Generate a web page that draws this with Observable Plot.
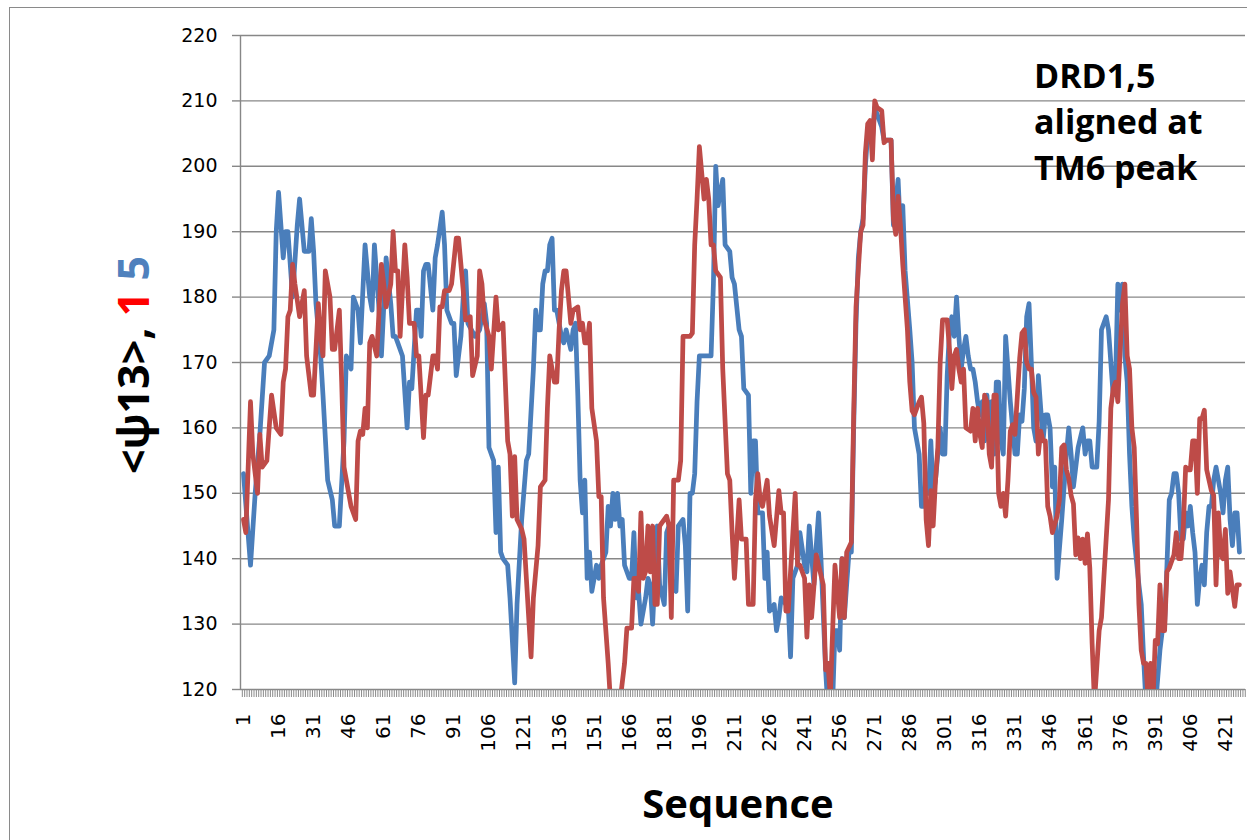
<!DOCTYPE html>
<html><head><meta charset="utf-8">
<script src="https://cdn.jsdelivr.net/npm/d3@7"></script>
<script src="https://cdn.jsdelivr.net/npm/@observablehq/plot@0.6"></script>
<style>
body{margin:0;background:#fff;}
#wrap{position:relative;width:1247px;height:840px;overflow:hidden;background:#fff;}
#border{position:absolute;left:9px;top:7px;width:1300px;height:900px;border-left:1.5px solid #8a8a8a;border-top:1.5px solid #8a8a8a;}
#wrap svg{position:absolute;left:0;top:0;}
</style></head><body><div id="wrap"><div id="border"></div></div>
<script>
// [sequence position, <psi13>]
const blueSeries = [[1,153],[4,139],[6,150],[8,159],[10,170],[12,171],[14,175],[15,190],[16,196],[18,186],[19,190],[20,190],[22,180],[24,191],[25,195],[27,187],[29,187],[30,192],[31,187],[32,179],[34,171],[35,165],[37,152],[39,149],[40,145],[42,145],[44,158],[45,171],[47,169],[48,180],[50,178],[51,173],[53,188],[55,180],[56,178],[57,188],[59,178],[60,171],[62,186],[64,179],[65,174],[66,174],[67,173],[69,171],[71,160],[72,167],[73,166],[75,178],[76,178],[77,174],[78,184],[79,185],[80,185],[82,178],[83,186],[84,188],[86,193],[87,188],[88,178],[90,176],[91,176],[92,168],[94,174],[95,180],[96,184],[97,176],[100,174],[102,175],[104,179],[105,176],[106,157],[108,155],[109,144],[110,154],[111,141],[112,140],[114,139],[115,134],[117,121],[118,133],[120,146],[122,155],[123,156],[125,169],[126,178],[127,175],[128,175],[129,182],[130,184],[131,184],[132,188],[133,189],[134,178],[135,178],[137,174],[138,173],[139,175],[141,172],[142,175],[143,176],[144,165],[145,152],[146,147],[147,152],[148,137],[149,141],[150,135],[152,139],[153,137],[154,139],[156,141],[157,148],[158,145],[159,150],[160,146],[161,150],[162,145],[163,146],[164,139],[166,137],[167,137],[168,144],[169,134],[170,135],[171,130],[173,134],[174,137],[175,136],[176,130],[178,145],[179,136],[181,133],[182,144],[183,145],[184,136],[186,135],[187,145],[189,146],[190,142],[191,132],[192,150],[193,150],[194,153],[195,164],[196,171],[198,171],[199,171],[201,171],[202,182],[203,200],[204,194],[205,196],[206,198],[207,188],[209,187],[210,183],[211,182],[213,175],[214,174],[215,166],[217,165],[218,150],[219,158],[220,158],[221,147],[223,147],[224,137],[225,141],[226,132],[228,133],[229,129],[230,131],[231,134],[233,133],[234,133],[235,125],[236,137],[238,139],[239,144],[241,139],[242,138],[243,145],[245,136],[246,142],[247,147],[248,140],[250,123],[251,117],[253,118],[254,129],[255,129],[256,126],[257,140],[258,131],[260,141],[261,141],[262,160],[263,176],[264,186],[265,190],[266,192],[267,200],[268,205],[269,206],[270,204],[271,209],[272,208],[273,207],[274,206],[275,204],[276,204],[277,204],[278,204],[279,191],[281,198],[282,190],[283,194],[284,184],[286,175],[287,170],[288,160],[290,156],[291,148],[292,148],[293,152],[294,150],[295,158],[296,150],[297,152],[298,156],[299,160],[300,156],[301,156],[302,168],[303,175],[304,177],[305,174],[306,180],[307,174],[308,169],[309,172],[310,174],[311,171],[312,169],[313,169],[314,167],[315,164],[316,162],[317,164],[318,158],[319,165],[320,158],[321,164],[322,156],[323,167],[324,167],[325,158],[326,156],[327,174],[328,169],[329,164],[331,156],[332,156],[333,162],[334,161],[335,166],[336,177],[337,179],[338,170],[339,160],[340,158],[341,168],[342,163],[343,158],[344,162],[345,162],[346,160],[347,151],[348,154],[349,137],[351,146],[352,151],[353,156],[354,160],[355,156],[356,151],[357,154],[358,157],[360,160],[361,156],[362,158],[363,158],[364,154],[365,154],[366,154],[367,161],[368,175],[370,177],[371,175],[373,165],[374,167],[375,182],[376,178],[377,182],[378,171],[379,167],[380,156],[381,148],[382,143],[384,136],[385,133],[386,125],[387,118],[389,117],[391,117],[393,126],[394,129],[395,130],[396,139],[397,149],[398,150],[399,153],[400,153],[401,150],[402,143],[403,143],[404,147],[405,145],[406,148],[407,144],[408,141],[409,133],[410,137],[411,139],[412,136],[413,144],[414,148],[415,148],[416,152],[417,154],[419,150],[420,147],[421,152],[422,154],[423,146],[424,142],[425,147],[426,147],[427,141]];
const redSeries = [[1,146],[2,144],[4,164],[5,156],[7,150],[8,159],[9,154],[11,155],[13,165],[15,160],[17,159],[18,167],[19,169],[20,177],[21,178],[22,185],[23,182],[25,177],[26,179],[27,181],[28,171],[30,165],[31,165],[33,179],[34,174],[35,171],[36,184],[38,180],[39,172],[40,172],[42,178],[43,167],[44,154],[45,152],[47,148],[49,146],[50,158],[51,159.5],[52,159],[53,163],[54,160],[55,173],[56,174],[58,171],[60,185],[61,182],[62,178.5],[64,182],[65,190],[66,184],[67,184],[68,174],[70,188],[71,183],[72,176],[74,176],[75,171],[76,171],[78,158.5],[79,165],[80,165],[82,171],[83,171],[84,169],[85,178.5],[86,178.5],[87,181],[89,181],[90,182],[92,189],[93,189],[95,181],[96,176.5],[97,176.5],[98,177],[99,168],[101,171],[102,184],[103,182],[104,176.5],[106,174],[107,169],[109,180],[110,175],[112,176],[113,167],[114,158],[115,156],[116,146.5],[117,155.6],[118,146],[120,144.5],[121,143],[122,137],[124,125],[125,134],[127,142],[128,151],[130,152],[131,163],[132,171],[134,167],[135,167],[136,175],[137,181],[138,184],[139,184],[141,176],[142,178],[144,178.5],[145,175],[146,176],[147,173],[148,173],[149,176],[150,163],[152,158],[153,149.5],[154,149.5],[155,134],[157,124],[158,118],[160,118],[162,118],[164,124],[165,129.4],[167,129.4],[168,137],[169,137],[170,135],[171,147],[172,137],[173,138],[174,145],[175,138],[176,145],[177,133],[178,133],[179,145],[181,146],[182,146.5],[183,145],[184,131],[185,152],[187,152],[188,155],[189,174],[190,174],[192,174],[193,174.5],[194,188],[195,195],[196,203],[198,195],[199,198],[200,195],[201,188],[202,188],[203,184],[205,183],[206,169],[208,153],[209,152],[210,144],[211,137],[213,149],[214,143],[216,143],[217,133],[219,133],[220,149],[221,153],[222,149],[223,148],[225,152],[226,146.5],[228,142],[230,150.4],[231,147],[232,147],[233,132],[234,132],[236,144],[237,150],[238,139],[239,139],[241,137],[242,128],[243,136],[244,131],[246,140.6],[247,139],[249,136],[250,123],[251,124],[252,119],[253,129],[254,139],[255,135],[256,131],[257,140],[258,131],[259,141],[261,142.5],[262,162],[263,178.5],[265,190],[266,191],[267,202],[268,206.5],[269,207],[270,201],[271,210],[272,209],[274,208.5],[275,203.6],[276,204],[278,204],[279,192],[280,189.6],[281,195.4],[282,191],[283,185],[285,175],[286,167],[287,162.6],[288,162],[290,164],[291,164.7],[292,160.7],[293,146],[294,142],[295,150.4],[296,145],[297,152],[298,157],[299,170],[300,176.5],[302,176.5],[303,172],[304,166],[305,171],[306,172],[307,169],[308,167],[309,169],[310,160],[312,159.5],[313,163],[314,158],[315,163],[316,159],[317,157],[318,165],[319,164],[320,156],[321,154],[322,165],[323,165],[324,150],[325,148],[326,150],[327,146.5],[328,152],[329,159.5],[330,160.5],[331,159],[333,170.6],[334,174.5],[335,175],[336,170],[337,169],[338,169],[339,165.4],[340,164.7],[341,156],[342,159.5],[343,158],[344,158],[345,148],[346,146.5],[347,144],[349,146.5],[350,149],[351,157],[352,157.4],[353,153.6],[354,152.3],[355,149.7],[356,148.4],[357,140.6],[358,143.2],[359,140],[360,143],[361,139.3],[362,143.8],[363,138.6],[364,127],[365,118],[367,129],[368,131],[369,137],[371,149],[372,163],[373,166],[374,167],[375,164],[376,172],[377,179],[378,182],[379,171],[380,169],[381,160],[382,157],[383,146],[384,133],[385,126],[386,124],[387,124],[388,118],[389,124],[390,118],[391,127.5],[392,127],[393,136],[394,129],[395,129],[396,138],[397,138.6],[399,140.6],[400,144],[401,140],[402,140],[403,145],[404,154],[405,153.6],[406,153.6],[407,158],[408,158],[409,150],[410,161.4],[411,161.4],[412,162.7],[413,153.6],[415,150.4],[416,149.7],[417,136],[418,147],[419,140.6],[420,140],[421,144.5],[422,134.7],[423,138],[425,132.7],[426,136],[427,136]];
const xTickLabels = [1,16,31,46,61,76,91,106,121,136,151,166,181,196,211,226,241,256,271,286,301,316,331,346,361,376,391,406,421];
const yTickValues = [120,130,140,150,160,170,180,190,200,210,220];
const noteLines = ["DRD1,5", "aligned at", "TM6 peak"];
const xTitle = "Sequence";

const rows = (pairs) => pairs.map(([s, v]) => ({s, v}));
const blue = rows(blueSeries);
const red = rows(redSeries);
const catBounds = d3.range(0.5, 430, 1);

const chart = Plot.plot({
  width: 1247, height: 840,
  marginLeft: 240, marginRight: 2, marginTop: 35, marginBottom: 151,
  x: {domain: [-0.28, 429.6]},
  y: {domain: [120, 220]},
  style: {fontFamily: "DejaVu Sans", background: "transparent", color: "#000"},
  marks: [
    Plot.gridY(yTickValues, {stroke: "#878787", strokeOpacity: 1, strokeWidth: 1.4}),
    Plot.ruleX([-0.28], {stroke: "#878787", strokeWidth: 1.4}),
    Plot.axisY(yTickValues, {tickSize: 8, tickPadding: 15, fontSize: 19, stroke: "#878787", strokeWidth: 1.4, label: null}),
    Plot.axisX(catBounds, {tickSize: 8, tickFormat: () => "", stroke: "#8a8a8a", label: null}),
    Plot.axisX(xTickLabels, {tickSize: 0, tickRotate: -90, tickPadding: 24, fontSize: 20, label: null}),
    Plot.line(blue, {x: "s", y: "v", stroke: "#4a7ebb", strokeWidth: 4.75, strokeLinejoin: "round", strokeLinecap: "round", clip: true}),
    Plot.line(red, {x: "s", y: "v", stroke: "#be4b48", strokeWidth: 4.75, strokeLinejoin: "round", strokeLinecap: "round", clip: true})
  ]
});
document.getElementById("wrap").appendChild(chart);

const svg = d3.select(chart);
svg.append("text").attr("x", 738).attr("y", 818).attr("text-anchor", "middle")
  .style("font", "bold 40px 'Open Sans'").attr("fill", "#000").text(xTitle);
const yt = svg.append("text").attr("transform", "translate(149,365) rotate(-90)").attr("text-anchor", "middle")
  .style("font", "bold 43px 'Open Sans'").attr("fill", "#000");
yt.append("tspan").text("<ψ13>, ");
yt.append("tspan").attr("fill", "#ff0000").text("1");
yt.append("tspan").text(" ");
yt.append("tspan").attr("fill", "#4f81bd").text("5");
noteLines.forEach((t, i) => {
  svg.append("text").attr("x", 1034).attr("y", 88 + i * 46).attr("text-anchor", "start")
    .style("font", "bold 34px 'Open Sans'").attr("fill", "#000").text(t);
});
</script></body></html>
